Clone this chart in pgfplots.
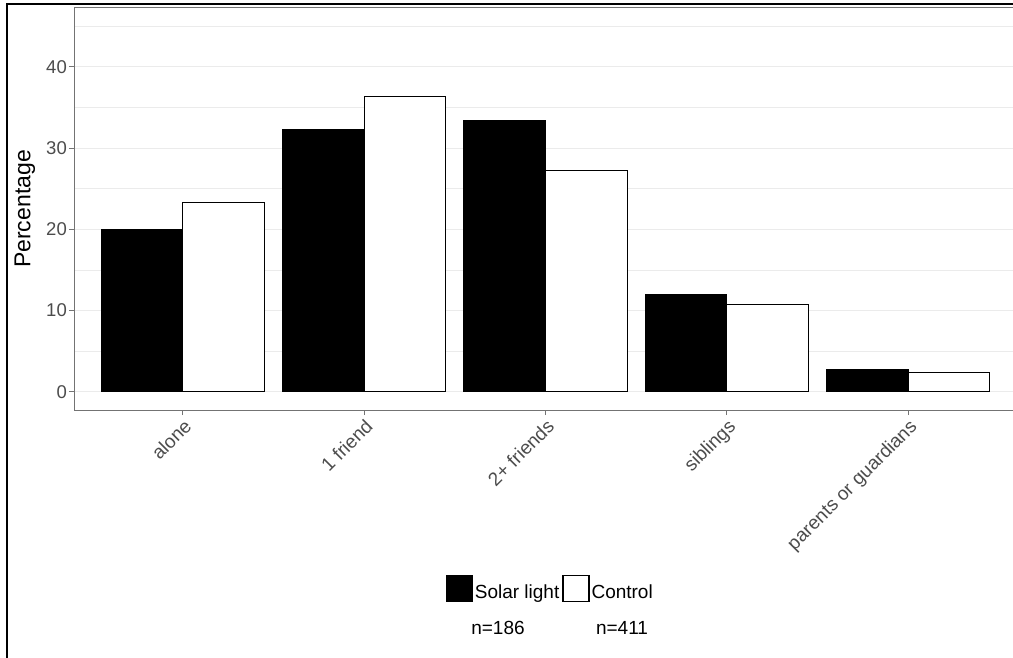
\documentclass[border=0pt]{standalone}
\usepackage{fontspec}
\setmainfont{Liberation Sans}
\usepackage{pgfplots}
\pgfplotsset{compat=1.18}
\definecolor{axgray}{gray}{0.45}
\definecolor{gridgray}{gray}{0.92}
\definecolor{ticktext}{gray}{0.3}
\begin{document}
\begin{tikzpicture}[x=1pt,y=1pt]
\useasboundingbox (0,0) rectangle (1013,657);
\draw[line width=1.3pt] (7,-2) -- (7,653) -- (1015,653);
\begin{axis}[
  at={(74pt,247pt)}, anchor=south west,
  scale only axis, width=943pt, height=402pt,
  xmin=0.4, xmax=5.6, ymin=-2.25, ymax=47.25,
  xtick={1,2,3,4,5},
  xticklabels={alone,1 friend,2+ friends,siblings,parents or guardians},
  ytick={0,10,20,30,40}, minor ytick={5,15,25,35,45},
  xtick pos=bottom, ytick pos=left,
  ymajorgrids, yminorgrids,
  major grid style={gridgray, line width=1pt},
  minor grid style={gridgray, line width=0.7pt},
  tick align=outside, major tick length=5pt, minor tick length=0pt,
  tick style={axgray, line width=1pt},
  axis line style={axgray, line width=1pt},
  /pgf/number format/assume math mode=true,
  yticklabel style={font=\fontsize{18.5}{18.5}\selectfont, color=ticktext, inner sep=2pt},
  xticklabel style={font=\fontsize{19}{19}\selectfont, color=ticktext, rotate=45, anchor=north east, inner sep=2pt},
  ylabel={Percentage},
  ylabel style={font=\fontsize{23}{23}\selectfont, at={(axis description cs:-0.052,0.5)}, anchor=center},
  ybar, bar width=0.45,
  legend columns=2,
  legend style={at={(0.505,-0.445)}, anchor=center, draw=none, fill=none,
    font=\fontsize{19}{19}\selectfont, inner sep=0pt,
    /tikz/every even column/.append style={column sep=1pt},
    /tikz/every odd column/.append style={column sep=0pt}},
]
\addplot[fill=black, draw=black, line width=1.2pt, bar shift=-0.225,
  legend image code/.code={\draw[fill=black,draw=black,line width=1.2pt] (0pt,-10pt) rectangle (26pt,16pt);}]
  coordinates {(1,20.0) (2,32.3) (3,33.4) (4,11.9) (5,2.7)};
\addlegendentry{Solar light}
\addplot[fill=white, draw=black, line width=1.2pt, bar shift=0.225,
  legend image code/.code={\draw[fill=white,draw=black,line width=1.2pt] (0pt,-10pt) rectangle (26pt,16pt);}]
  coordinates {(1,23.3) (2,36.4) (3,27.2) (4,10.7) (5,2.4)};
\addlegendentry{Control}
\end{axis}
\node[font=\fontsize{19}{19}\selectfont] at (498,29) {n=186};
\node[font=\fontsize{19}{19}\selectfont] at (622,29) {n=411};
\end{tikzpicture}
\end{document}
